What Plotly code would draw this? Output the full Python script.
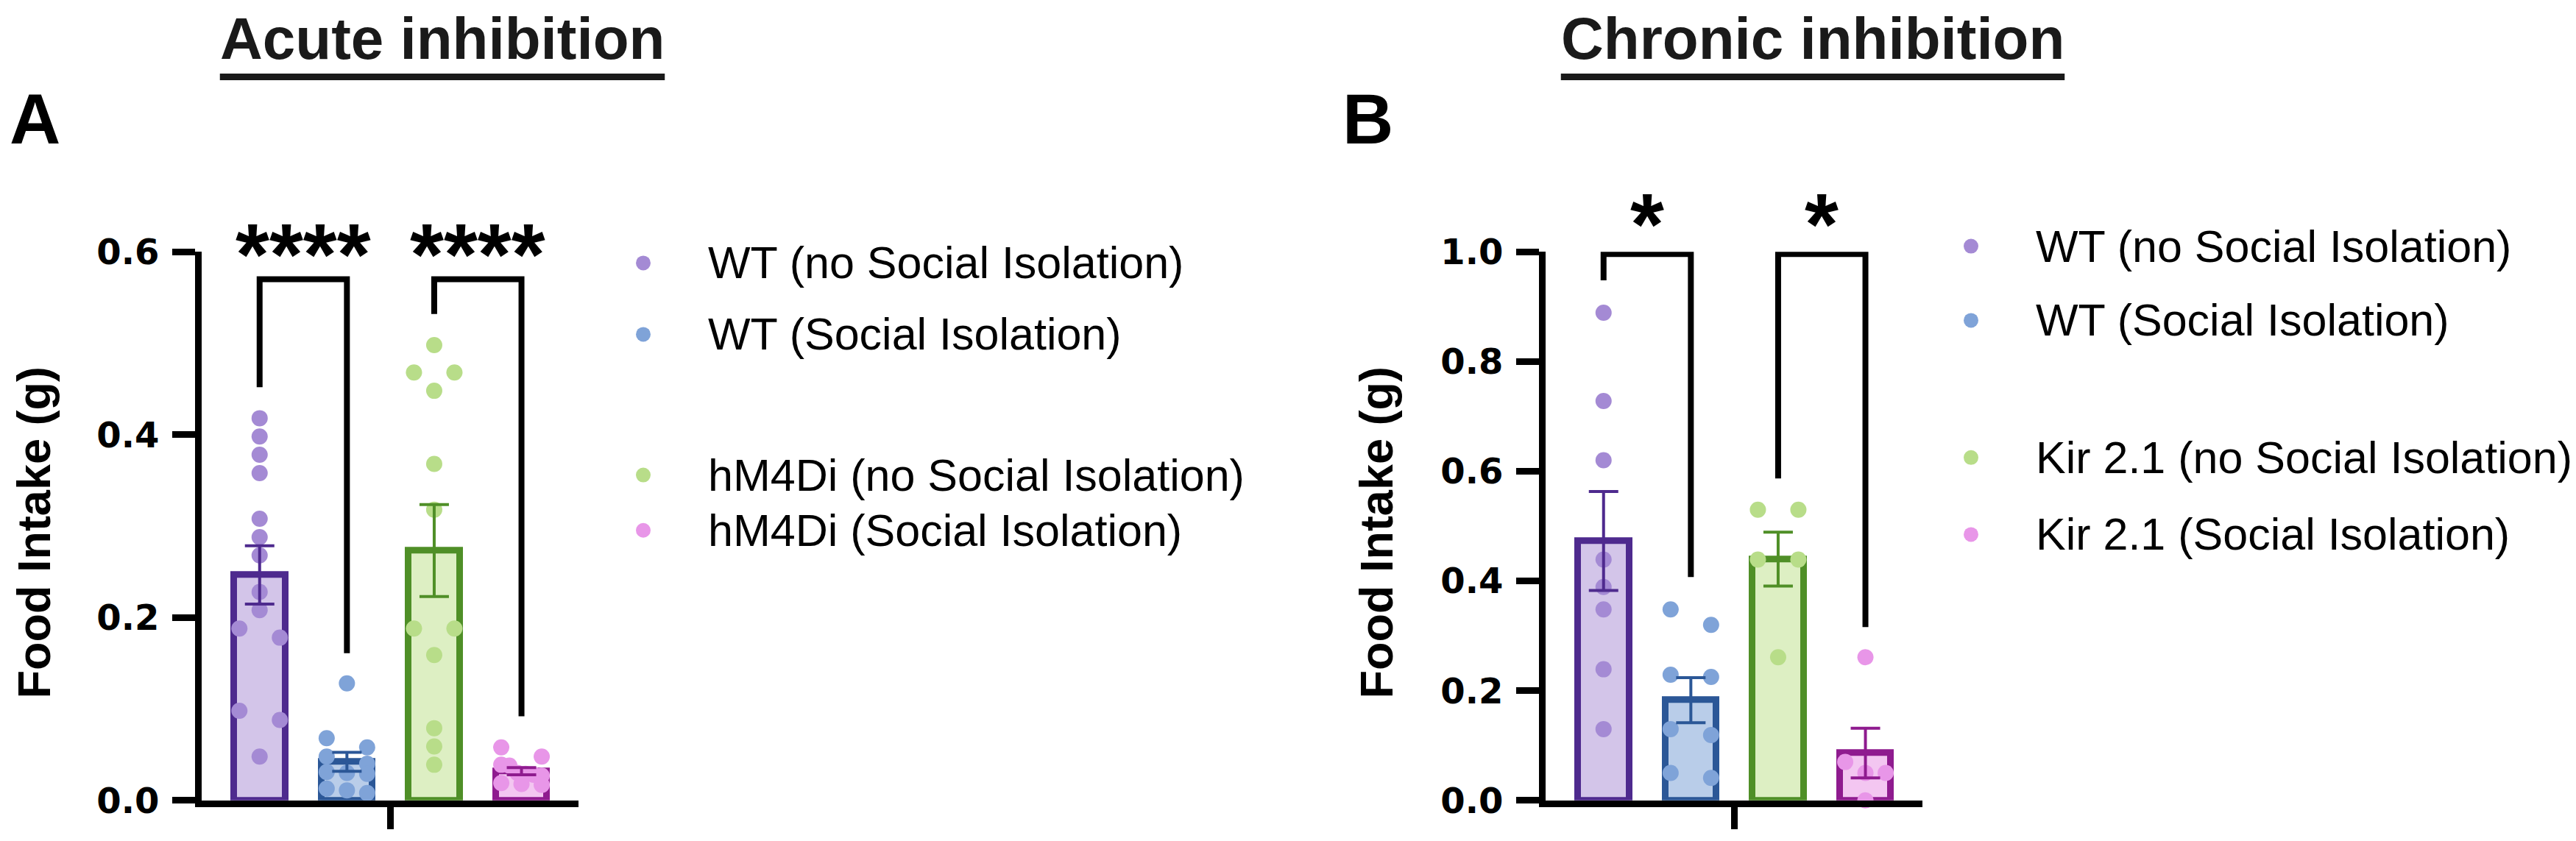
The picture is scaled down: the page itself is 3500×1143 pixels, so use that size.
import numpy as np
import plotly.graph_objects as go

W, H = 3500, 1143

# ---------------- data ----------------
groups_a = ["WT (no Social Isolation)", "WT (Social Isolation)",
            "hM4Di (no Social Isolation)", "hM4Di (Social Isolation)"]
groups_b = ["WT (no Social Isolation)", "WT (Social Isolation)",
            "Kir 2.1 (no Social Isolation)", "Kir 2.1 (Social Isolation)"]

a_wt_noiso = [0.418, 0.398, 0.378, 0.358, 0.308, 0.288, 0.268, 0.228, 0.208,
              0.188, 0.178, 0.098, 0.088, 0.048]
a_wt_iso = [0.128, 0.068, 0.058, 0.048, 0.040, 0.031, 0.030, 0.029, 0.013, 0.011, 0.008]
a_hm_noiso = [0.498, 0.468, 0.468, 0.448, 0.368, 0.318, 0.188, 0.188, 0.159,
              0.079, 0.059, 0.039]
a_hm_iso = [0.058, 0.048, 0.039, 0.038, 0.030, 0.029, 0.028, 0.027, 0.019, 0.018, 0.017]

b_wt_noiso = [0.889, 0.728, 0.620, 0.439, 0.389, 0.348, 0.239, 0.130]
b_wt_iso = [0.348, 0.320, 0.229, 0.225, 0.130, 0.119, 0.050, 0.041]
b_kir_noiso = [0.530, 0.530, 0.439, 0.439, 0.261]
b_kir_iso = [0.261, 0.070, 0.050, 0.050, 0.000]

a_yticks = [0.0, 0.2, 0.4, 0.6]
b_yticks = [0.0, 0.2, 0.4, 0.6, 0.8, 1.0]

# significance brackets: (left group, right group, left leg bottom, right leg bottom, top, label)
a_sig = [(0, 1, 0.452, 0.161, 0.570, "****"), (2, 3, 0.532, 0.092, 0.570, "****")]
b_sig = [(0, 1, 0.948, 0.407, 0.996, "*"), (2, 3, 0.587, 0.316, 0.996, "*")]

titles = ["Acute inhibition", "Chronic inhibition"]

# ---------------- styles ----------------
border_cols = ["#4E2A8E", "#2B5797", "#4F8F27", "#8F1B8F"]
fill_cols = ["#D3C5E9", "#B9CDE9", "#DDEFC3", "#F3C6F1"]
point_cols = ["#A48AD4", "#7FA3D8", "#B8DD89", "#E896E8"]

FONT = "Liberation Sans, Arial, Helvetica, sans-serif"
TICKFONT = "DejaVu Sans, Liberation Sans, Arial, sans-serif"

PX_PER_CAT = 118.6
XRANGE = [-0.664, 3.653]
Y_TOP, Y_BOT = 322, 1106
YDOM = [1 - Y_BOT / H, 1 - Y_TOP / H]
PLOT_H = Y_BOT - Y_TOP
DOT = 22
SPREAD = 55


def swarm(vals, px_per_unit):
    v = np.asarray(vals, float)
    order = np.argsort(-v, kind="stable")
    groups = []
    for i in order:
        if groups and (v[groups[-1][0]] - v[i]) * px_per_unit < DOT:
            groups[-1].append(i)
        else:
            groups.append([i])
    off = np.zeros(len(v))
    for g in groups:
        if len(g) > 1:
            offs = np.linspace(-SPREAD / 2, SPREAD / 2, len(g))
            for k, idx in enumerate(g):
                off[idx] = offs[k]
    return off / PX_PER_CAT


fig = go.Figure()


def panel(xa, ya, data, ymax, sig, ann_shift):
    px_per_unit = PLOT_H / ymax
    means = [float(np.mean(d)) for d in data]
    sems = [float(np.std(d, ddof=1) / np.sqrt(len(d))) for d in data]
    xs = list(range(len(data)))
    fig.add_trace(go.Bar(
        x=xs, y=means, width=0.587, xaxis=xa, yaxis=ya,
        marker=dict(color=fill_cols, line=dict(color=border_cols, width=9)),
        showlegend=False, hoverinfo="skip"))
    for i, d in enumerate(data):
        off = swarm(d, px_per_unit)
        fig.add_trace(go.Scatter(
            x=i + off, y=d, mode="markers", xaxis=xa, yaxis=ya, cliponaxis=False,
            marker=dict(size=DOT, color=point_cols[i], line=dict(width=0)),
            showlegend=False, hoverinfo="skip"))
    for i in xs:
        fig.add_trace(go.Scatter(
            x=[i], y=[means[i]], mode="markers", xaxis=xa, yaxis=ya,
            marker=dict(size=1, opacity=0),
            error_y=dict(type="data", array=[sems[i]], visible=True,
                         color=border_cols[i], thickness=4, width=20),
            showlegend=False, hoverinfo="skip"))
    for (l, r, lb, rb, top, lab) in sig:
        fig.add_trace(go.Scatter(
            x=[l, l, r, r], y=[lb, top, top, rb], mode="lines", xaxis=xa, yaxis=ya,
            line=dict(color="black", width=8), showlegend=False, hoverinfo="skip"))
        fig.add_annotation(x=(l + r) / 2, y=top, xref=xa, yref=ya, text=lab,
                           showarrow=False, yanchor="middle", yshift=ann_shift,
                           font=dict(family=FONT, size=118, color="black", weight="bold"))


panel("x", "y", [a_wt_noiso, a_wt_iso, a_hm_noiso, a_hm_iso], 0.6, a_sig, 34)
panel("x2", "y2", [b_wt_noiso, b_wt_iso, b_kir_noiso, b_kir_iso], 1.0, b_sig, 40)

axis_common = dict(showline=True, linecolor="black", linewidth=9, ticks="outside",
                   tickcolor="black", tickwidth=9, showgrid=False, zeroline=False)
tickfont = dict(family=TICKFONT, size=48, color="black", weight="bold")

fig.update_layout(
    width=W, height=H, margin=dict(l=0, r=0, t=0, b=0),
    paper_bgcolor="white", plot_bgcolor="white", bargap=0,
    xaxis=dict(domain=[266 / W, 778 / W], range=XRANGE, tickvals=[1.5], ticktext=[""],
               ticklen=30, **axis_common),
    yaxis=dict(domain=YDOM, range=[0, 0.6], tickvals=a_yticks,
               ticktext=[f"{t:.1f}" for t in a_yticks], ticklen=31, ticklabelstandoff=8,
               tickfont=tickfont, **axis_common),
    xaxis2=dict(domain=[2092 / W, 2604 / W], range=XRANGE, tickvals=[1.5], ticktext=[""],
                ticklen=30, anchor="y2", **axis_common),
    yaxis2=dict(domain=YDOM, range=[0, 1.0], tickvals=b_yticks, anchor="x2",
                ticktext=[f"{t:.1f}" for t in b_yticks], ticklen=31, ticklabelstandoff=8,
                tickfont=tickfont, **axis_common),
)


def px(x, y):
    return x / W, 1 - y / H


# titles (underlined)
TITLE_SIZE = 80
em = {"A": .722, "C": .722, "c": .556, "u": .611, "t": .333, "e": .556, " ": .278,
      "i": .278, "n": .611, "h": .611, "b": .611, "o": .611, "r": .389}
for text, cx in zip(titles, [593, 2455]):
    fig.add_annotation(x=cx / W, y=1.0, xref="paper", yref="paper", text=text,
                       showarrow=False, xanchor="center", yanchor="top", yshift=30,
                       font=dict(family=FONT, size=TITLE_SIZE, color="#1a1a1a",
                                 weight="bold"))
    # approximate width of bold Arial-metric text (em units) for the underline
    wpx = sum(em.get(ch, .6) for ch in text) * TITLE_SIZE
    x0, y0 = px(cx - wpx / 2, 72)
    x1, _ = px(cx + wpx / 2, 72)
    fig.add_shape(type="line", xref="paper", yref="paper", x0=x0, x1=x1, y0=y0, y1=y0,
                  line=dict(color="#1a1a1a", width=9))

# panel letters
for text, lx in [("A", 3), ("B", 1814)]:
    x, y = px(lx, 132)
    fig.add_annotation(x=x, y=y, xref="paper", yref="paper", text=text, showarrow=False,
                       xanchor="left", yanchor="middle",
                       font=dict(family=FONT, size=96, color="black", weight="bold"))

# y-axis titles
for cx in [38, 1862]:
    x, y = px(cx, (Y_TOP + Y_BOT) / 2 + 10)
    fig.add_annotation(x=x, y=y, xref="paper", yref="paper", text="Food Intake (g)",
                       showarrow=False, textangle=-90, xanchor="center", yanchor="middle",
                       font=dict(family=FONT, size=63, color="black", weight="bold"))

# legends
legend_rows_a = [338, 440, 641, 720]
legend_rows_b = [314, 420, 616, 726]
for names, rows, mx, tx in [(groups_a, legend_rows_a, 866, 952),
                            (groups_b, legend_rows_b, 2670, 2756)]:
    for i, (name, ry) in enumerate(zip(names, rows)):
        x, y = px(mx, ry)
        fig.add_shape(type="circle", xref="paper", yref="paper", xsizemode="pixel",
                      ysizemode="pixel", xanchor=x, yanchor=y, x0=-10, x1=10, y0=-10, y1=10,
                      fillcolor=point_cols[i], line=dict(width=0))
        x, y = px(tx, ry)
        fig.add_annotation(x=x, y=y, xref="paper", yref="paper", text=name, showarrow=False,
                           xanchor="left", yanchor="middle",
                           font=dict(family=FONT, size=61, color="black"))

fig.write_html("out.html")
